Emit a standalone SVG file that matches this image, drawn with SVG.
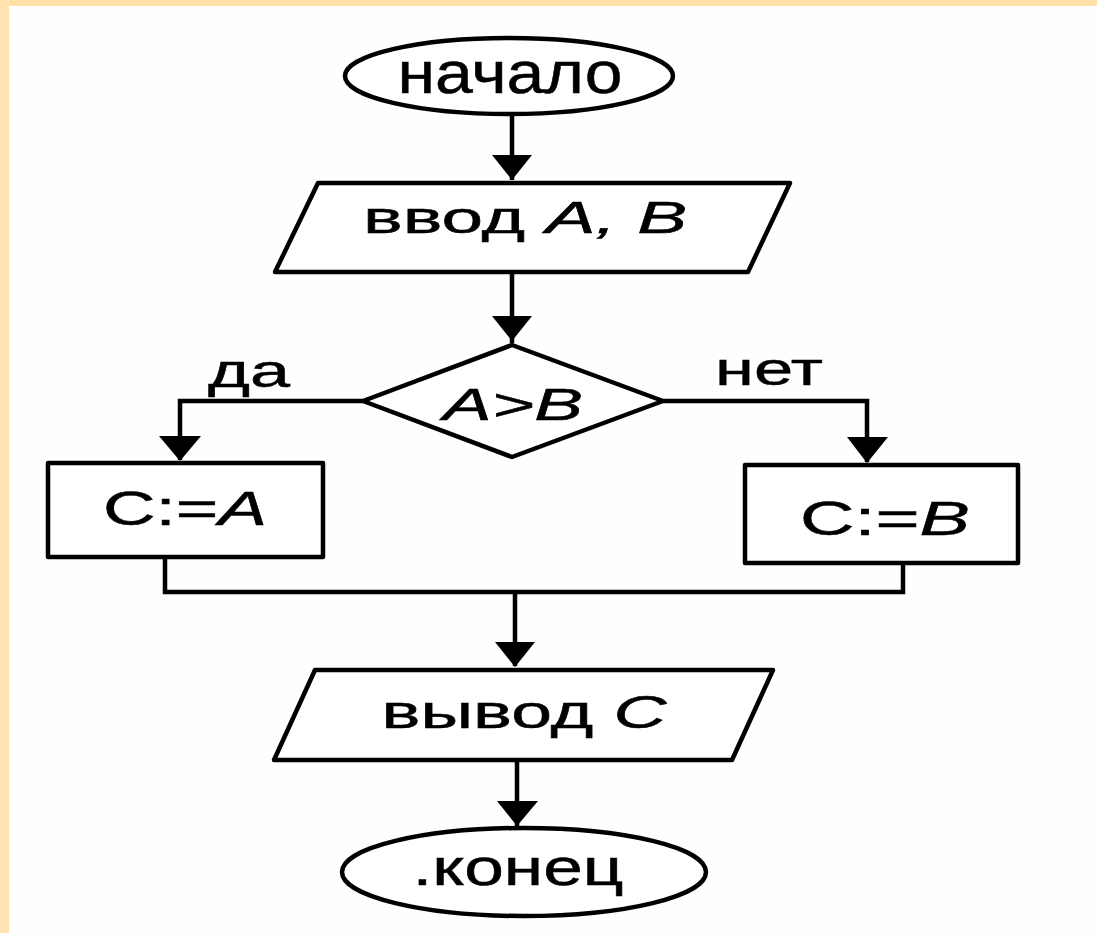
<svg xmlns="http://www.w3.org/2000/svg" width="1097" height="933" viewBox="0 0 1097 933">
<style>
.shape{fill:#fff;stroke:#000;stroke-width:4.5;stroke-linejoin:round}
.conn{fill:none;stroke:#000;stroke-width:4.5}
.lbl{font-family:"Liberation Sans",Arial,sans-serif;fill:#000;stroke:#000;stroke-width:0.5}
.it{font-style:italic}
</style>
<rect x="0" y="0" width="1097" height="933" fill="#fefefe"/>
<rect x="0" y="0" width="1097" height="6" fill="#ffe1a8"/>
<rect x="0" y="0" width="9" height="933" fill="#ffe3b0"/>

<g id="connectors">
<path class="conn" d="M512,115 V180"/>
<path d="M492,155 L532,155 L512,180 Z"/>
<path class="conn" d="M512,272 V343"/>
<path d="M492,316 L532,316 L512,341 Z"/>
<path class="conn" d="M363,401 H180 V460"/>
<path d="M159,436 L201,436 L180,461 Z"/>
<path class="conn" d="M663,401 H867 V462"/>
<path d="M847,437 L888,437 L867,463 Z"/>
<path class="conn" d="M165,557 V592 H903 V563"/>
<path class="conn" d="M515,592 V666"/>
<path d="M495,642 L535,642 L515,667 Z"/>
<path class="conn" d="M517,760 V826"/>
<path d="M497,801 L538,801 L517,826 Z"/>
</g>

<g id="start">
<ellipse class="shape" cx="509" cy="76" rx="164" ry="38"/>
<text class="lbl" x="510" y="93" font-size="60" text-anchor="middle" textLength="225" lengthAdjust="spacingAndGlyphs">начало</text>
</g>

<g id="input">
<polygon class="shape" points="318,183 790,183 748,272 275,272"/>
<text class="lbl" x="525" y="233" font-size="45" text-anchor="middle" textLength="324" lengthAdjust="spacingAndGlyphs">ввод <tspan class="it">A, B</tspan></text>
</g>

<g id="decision">
<polygon class="shape" points="512,345 663,401 512,457 363,401"/>
<text class="lbl it" x="513" y="420" font-size="44" text-anchor="middle" textLength="140" lengthAdjust="spacingAndGlyphs">A&gt;B</text>
</g>

<g id="label-yes">
<text class="lbl" x="249" y="387" font-size="46" text-anchor="middle" textLength="82" lengthAdjust="spacingAndGlyphs">да</text>
</g>
<g id="label-no">
<text class="lbl" x="769" y="385" font-size="46" text-anchor="middle" textLength="108" lengthAdjust="spacingAndGlyphs">нет</text>
</g>

<g id="assign-a">
<rect class="shape" x="48" y="463" width="275" height="94"/>
<text class="lbl" x="185" y="525" font-size="48" text-anchor="middle" textLength="164" lengthAdjust="spacingAndGlyphs">C:=<tspan class="it">A</tspan></text>
</g>

<g id="assign-b">
<rect class="shape" x="745" y="465" width="273" height="98"/>
<text class="lbl" x="885" y="535" font-size="48" text-anchor="middle" textLength="170" lengthAdjust="spacingAndGlyphs">C:=<tspan class="it">B</tspan></text>
</g>

<g id="output">
<polygon class="shape" points="315,670 773,670 732,760 274,760"/>
<text class="lbl" x="524" y="728" font-size="46" text-anchor="middle" textLength="285" lengthAdjust="spacingAndGlyphs">вывод <tspan class="it">C</tspan></text>
</g>

<g id="end">
<ellipse class="shape" cx="524" cy="872" rx="182" ry="44"/>
<text class="lbl" x="518" y="885" font-size="52" text-anchor="middle" textLength="211" lengthAdjust="spacingAndGlyphs">.конец</text>
</g>
</svg>
